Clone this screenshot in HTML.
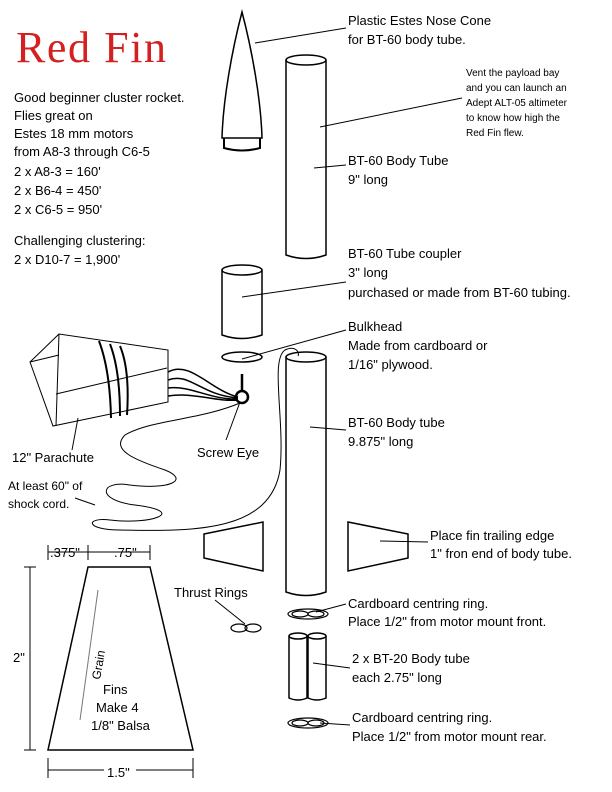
<!DOCTYPE html>
<html><head><style>
body{margin:0;background:#fff}
svg{display:block}
text{font-family:"Liberation Sans",sans-serif;font-size:13px;fill:#000}
</style></head><body>
<svg width="612" height="792" viewBox="0 0 612 792" fill="none" stroke="#000" stroke-width="1.5">
<text x="16" y="62" style="font-size:44px;fill:#d42020;font-family:'Liberation Serif',serif" stroke="none" textLength="150">Red Fin</text>
<g stroke="none">
<text x="14" y="102">Good beginner cluster rocket.</text>
<text x="14" y="120">Flies great on</text>
<text x="14" y="138">Estes 18 mm motors</text>
<text x="14" y="156">from A8-3 through C6-5</text>
<text x="14" y="176">2 x A8-3  = 160'</text>
<text x="14" y="195">2 x B6-4  = 450'</text>
<text x="14" y="214">2 x C6-5  = 950'</text>
<text x="14" y="245">Challenging clustering:</text>
<text x="14" y="264">2 x D10-7  =  1,900'</text>
<text x="348" y="25">Plastic Estes Nose Cone</text>
<text x="348" y="44">for BT-60 body tube.</text>
<text x="466" y="76" style="font-size:10px">Vent the payload bay</text>
<text x="466" y="91" style="font-size:10px">and you can launch an</text>
<text x="466" y="106" style="font-size:10px">Adept ALT-05 altimeter</text>
<text x="466" y="121" style="font-size:10px">to know how high the</text>
<text x="466" y="136" style="font-size:10px">Red Fin flew.</text>
<text x="348" y="165">BT-60 Body Tube</text>
<text x="348" y="184">9" long</text>
<text x="348" y="258">BT-60 Tube coupler</text>
<text x="348" y="277">3" long</text>
<text x="348" y="297">purchased or made from BT-60 tubing.</text>
<text x="348" y="331">Bulkhead</text>
<text x="348" y="350">Made from cardboard or</text>
<text x="348" y="369">1/16" plywood.</text>
<text x="348" y="427">BT-60 Body tube</text>
<text x="348" y="446">9.875" long</text>
<text x="430" y="540">Place fin trailing edge</text>
<text x="430" y="558">1" fron end of body tube.</text>
<text x="348" y="608">Cardboard centring ring.</text>
<text x="348" y="626">Place 1/2" from motor mount front.</text>
<text x="352" y="663">2 x BT-20 Body tube</text>
<text x="352" y="682">each 2.75" long</text>
<text x="352" y="722">Cardboard centring ring.</text>
<text x="352" y="741">Place 1/2" from motor mount rear.</text>
<text x="174" y="597">Thrust Rings</text>
<text x="197" y="457">Screw Eye</text>
<text x="12" y="462">12" Parachute</text>
<text x="8" y="490" style="font-size:12px">At least 60" of</text>
<text x="8" y="508" style="font-size:12px">shock cord.</text>
<text x="50" y="557">.375"</text>
<text x="114" y="557">.75"</text>
<text x="13" y="662">2"</text>
<text x="107" y="777">1.5"</text>
<text x="103" y="694">Fins</text>
<text x="96" y="712">Make 4</text>
<text x="91" y="730">1/8" Balsa</text>
<text x="0" y="0" transform="translate(100,680) rotate(-80)" style="font-size:12px">Grain</text>
</g>
<path d="M242 12 C232 50 223 100 222 138 L262 138 C261 100 252 50 242 12Z"/>
<path d="M224 138 L224 148 Q242 153 260 148 L260 138" stroke-width="2"/>
<line x1="255" y1="43" x2="346" y2="28" stroke-width="1"/>
<ellipse cx="306" cy="60" rx="20" ry="5"/>
<path d="M286 60 V255 Q306 262 326 255 V60"/>
<line x1="320" y1="127" x2="462" y2="98" stroke-width="1"/>
<line x1="314" y1="168" x2="346" y2="165" stroke-width="1"/>
<ellipse cx="242" cy="270" rx="20" ry="5"/>
<path d="M222 270 V335 Q242 342 262 335 V270"/>
<line x1="242" y1="297" x2="346" y2="282" stroke-width="1"/>
<ellipse cx="242" cy="357" rx="20" ry="5"/>
<line x1="242" y1="359" x2="346" y2="330" stroke-width="1"/>
<line x1="242" y1="374" x2="242" y2="392" stroke-width="2.5"/>
<circle cx="242" cy="397" r="6" stroke-width="2.5"/>
<line x1="240" y1="402" x2="226" y2="440" stroke-width="1"/>
<ellipse cx="306" cy="357" rx="20" ry="5"/>
<path d="M286 357 V592 Q306 599 326 592 V357"/>
<line x1="310" y1="427" x2="346" y2="430" stroke-width="1"/>
<path d="M240 403 C200 420 150 420 125 435 C110 450 135 460 165 470 C190 480 170 490 130 485 C100 480 95 500 135 505 C190 512 150 525 110 520 C85 517 85 530 120 530 C200 532 270 530 280 470 C285 420 270 360 285 350 C295 345 300 352 298 356" stroke-width="1"/>
<path d="M59 334 L30 362 L53 426 L168 402 L168 350 Z M59 334 L56 426 M56 394 L167 368 M30 362 L59 355" stroke-width="1"/>
<path d="M99 341 Q110 370 111 418 M110 344 Q120 370 120 416 M120 346 Q130 370 127 415" stroke-width="2"/>
<path d="M168 372 C190 360 210 390 238 397 M168 380 C190 372 200 395 238 398 M168 388 C190 385 210 400 238 399 M168 396 C195 392 215 402 238 400" stroke-width="1.5"/>
<line x1="78" y1="418" x2="72" y2="450" stroke-width="1"/>
<line x1="75" y1="498" x2="95" y2="505" stroke-width="1"/>
<polygon points="204,534 263,522 263,571 204,558"/>
<polygon points="348,522 408,534 408,558 348,571"/>
<line x1="380" y1="541" x2="428" y2="542" stroke-width="1"/>
<g stroke-width="1.2">
<ellipse cx="308" cy="614" rx="20" ry="5"/><ellipse cx="300" cy="614" rx="8" ry="3"/><ellipse cx="316" cy="614" rx="8" ry="3"/>
<ellipse cx="308" cy="723" rx="20" ry="5"/><ellipse cx="300" cy="723" rx="8" ry="3"/><ellipse cx="316" cy="723" rx="8" ry="3"/>
<ellipse cx="239" cy="628" rx="8" ry="4"/><ellipse cx="253" cy="628" rx="8" ry="4"/>
</g>
<line x1="316" y1="612" x2="346" y2="604" stroke-width="1"/>
<line x1="320" y1="723" x2="350" y2="725" stroke-width="1"/>
<line x1="215" y1="600" x2="245" y2="624" stroke-width="1"/>
<ellipse cx="298" cy="636" rx="9" ry="3"/><ellipse cx="317" cy="636" rx="9" ry="3"/>
<path d="M289 636 V698 Q298 702 307 698 V636 M308 636 V698 Q317 702 326 698 V636"/>
<line x1="313" y1="663" x2="350" y2="668" stroke-width="1"/>
<polygon points="88,567 150,567 193,750 48,750"/>
<line x1="98" y1="590" x2="80" y2="720" stroke-width="1" stroke="#777"/>
<path d="M30 567 V750 M24 567 H36 M24 750 H36" stroke-width="1"/>
<path d="M48 545 V560 M88 545 V560 M150 545 V560 M48 552 H88 M88 552 H150" stroke-width="1"/>
<path d="M48 758 V778 M193 758 V778 M48 770 H104 M136 770 H193" stroke-width="1"/>
</svg>
</body></html>
